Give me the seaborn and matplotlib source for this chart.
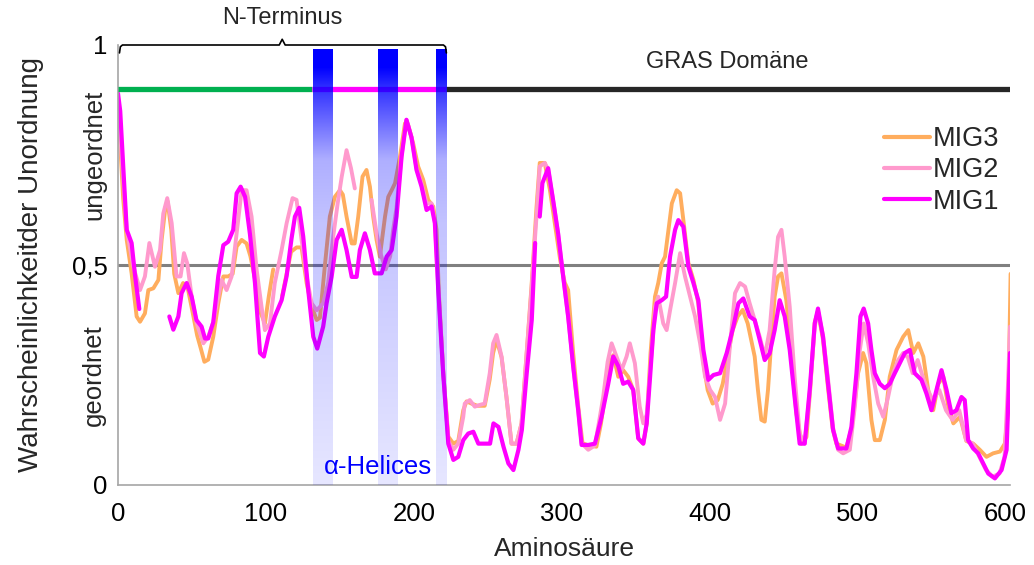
import numpy as np
import pandas as pd
import seaborn as sns
import matplotlib.pyplot as plt
from matplotlib.lines import Line2D

# disorder probability per residue (None = gap in the trace)
mig3_points = [
    (0, 0.80), (1.4, 0.78), (3.5, 0.65), (5.9, 0.557), (9.2, 0.481), (12.6, 0.383), (14.9, 0.371),
    (18.2, 0.39), (20.5, 0.443), (23.9, 0.447), (27.3, 0.466), (29.5, 0.557), (32, 0.63), (33.5, 0.645),
    (36, 0.58), (38, 0.48), (40.8, 0.436), (44, 0.459), (47, 0.45), (50, 0.40), (53.5, 0.34), (56, 0.31),
    (58.4, 0.28), (61, 0.285), (64.4, 0.337), (67.8, 0.413), (71.2, 0.474), (74.5, 0.474), (77.5, 0.48),
    (80.2, 0.542), (83.6, 0.557), (86.9, 0.549), (89.5, 0.52), (92.5, 0.47), (95.5, 0.40), (99.3, 0.367),
    (102, 0.43), (104.9, 0.49), None,
    (111, 0.43), (114, 0.48), (117, 0.53), (120.7, 0.54), (124.1, 0.54), (127.5, 0.459), (130.9, 0.406),
    (134.3, 0.375), (136.5, 0.38), (140, 0.504), (143.2, 0.61), (146.6, 0.655), (150, 0.67), (152, 0.66),
    (154.5, 0.61), (158, 0.549), (160, 0.549), (162.4, 0.61), (165.3, 0.701), (168, 0.716), (170.3, 0.678),
    (172.5, 0.61), (174.8, 0.557), (177, 0.519), (180.5, 0.61), (182.7, 0.655), (185, 0.67), (187.3, 0.686),
    (190.6, 0.746), (194, 0.822), (196, 0.82), (199.5, 0.777), (202.9, 0.724), (206.3, 0.694), (209.7, 0.648),
    (213.1, 0.633), (215.3, 0.58), (217, 0.43), (220, 0.25), (223.3, 0.11), (226.7, 0.094), (230, 0.1),
    (233.4, 0.17), (235.6, 0.19), (239, 0.185), (243, 0.18), (247.9, 0.18), (251.3, 0.24), (253.6, 0.30),
    (255.9, 0.33), (259.3, 0.29), (262.6, 0.2), (266, 0.094), (269.4, 0.094), (272.8, 0.14), (276.1, 0.292),
    (279.5, 0.45), (282.9, 0.63), (285.1, 0.732), (288.5, 0.732), (292, 0.67), (295.5, 0.59), (299, 0.51),
    (302, 0.46), (304.3, 0.443), (307.7, 0.30), (311.1, 0.18), (314, 0.095), (318, 0.09), (323.4, 0.087),
    (326.5, 0.14), (329.5, 0.21), (332, 0.27), (334.8, 0.295), (338.2, 0.246), (341.5, 0.261), (344.9, 0.246),
    (348.3, 0.216), (351.7, 0.106), (355.1, 0.094), (357.4, 0.14), (360, 0.30), (363, 0.428), (365.2, 0.459),
    (367.6, 0.504), (369.8, 0.519), (372.1, 0.58), (374.4, 0.64), (377.7, 0.67), (380, 0.663), (382.2, 0.602),
    (385.6, 0.504), (389, 0.466), (392.3, 0.413), (395.7, 0.28), (398.6, 0.216), (402, 0.185), (405.4, 0.193),
    (408.8, 0.23), (412.2, 0.292), (415.5, 0.352), (418.9, 0.383), (422.3, 0.398), (425.7, 0.367),
    (430.4, 0.292), (432.6, 0.216), (434.9, 0.148), (437.2, 0.144), (439.4, 0.216), (441.7, 0.33),
    (443.9, 0.428), (446.2, 0.474), (448.5, 0.481), (451.8, 0.42), (455.2, 0.292), (458.6, 0.163),
    (462, 0.094), (465.4, 0.109), (468, 0.22), (471, 0.37), (473.2, 0.395), (476.6, 0.33), (480, 0.22),
    (483, 0.13), (485.6, 0.094), (492.4, 0.085), (496, 0.13), (500.3, 0.254), (503.7, 0.3), (505.9, 0.277),
    (509.3, 0.148), (511.6, 0.102), (515, 0.102), (518.4, 0.148), (521.7, 0.246), (526.3, 0.307),
    (530.8, 0.337), (534.2, 0.352), (537.6, 0.3), (541, 0.322), (544.4, 0.292), (547.7, 0.216), (551.1, 0.17),
    (554.5, 0.23), (557.9, 0.246), (561.3, 0.178), (564.7, 0.14), (569.2, 0.155), (573.5, 0.1), (578.1, 0.094),
    (582.6, 0.08), (587.1, 0.064), (591.6, 0.072), (596.2, 0.076), (599.5, 0.094), (601.8, 0.17), (603.4, 0.48),
]

mig2_points = [
    (0, 0.87), (3, 0.72), (5.9, 0.58), (10.4, 0.496), (14.9, 0.443), (18.2, 0.474), (21.2, 0.55), (25, 0.496),
    (28.4, 0.534), (30.6, 0.617), (33.3, 0.652), (36.3, 0.595), (39.6, 0.474), (42.3, 0.474), (44.6, 0.527),
    (46.8, 0.504), (49.8, 0.428), (53.2, 0.367), (57.7, 0.322), (61, 0.337), (64.4, 0.37), (67.8, 0.428),
    (70, 0.466), (73.4, 0.443), (76.8, 0.474), (80.2, 0.572), (83.6, 0.67), (86.9, 0.67), (90.3, 0.61),
    (93.7, 0.49), (97, 0.406), (99.3, 0.352), (102.7, 0.367), (106, 0.459), (110.6, 0.534), (114, 0.595),
    (118, 0.652), (120.7, 0.648), (124.1, 0.557), (127.5, 0.474), (130.9, 0.413), (134.3, 0.397),
    (138.7, 0.413), (142.1, 0.46), (145.5, 0.565), (148.5, 0.64), (151.2, 0.70), (154.5, 0.761),
    (157.5, 0.72), (160.1, 0.674), None,
    (171.4, 0.648), (174.8, 0.572), (178, 0.52), (181, 0.49), (184, 0.52), (186, 0.58), (188.3, 0.63),
    (191.7, 0.75), (195, 0.83), (198.4, 0.79), (201.8, 0.72), (205.2, 0.685), (208.6, 0.64), (212, 0.64),
    (214.2, 0.6), (216.5, 0.45), (219.8, 0.26), (223.3, 0.10), (226.7, 0.08), (230, 0.094), (233.4, 0.155),
    (234.4, 0.185), (237.8, 0.193), (241.2, 0.178), (244.5, 0.182), (247.9, 0.185), (251.3, 0.254),
    (253.6, 0.322), (255.9, 0.341), (259.3, 0.292), (262.6, 0.2), (266, 0.094), (269.4, 0.094),
    (272.8, 0.14), (276.1, 0.292), (279.5, 0.443), (282.9, 0.61), (285.1, 0.724), (288.5, 0.732),
    (290.8, 0.717), (294.1, 0.648), (297.5, 0.572), (300.9, 0.475), (304.3, 0.383), (307.7, 0.27),
    (311.1, 0.17), (313.4, 0.095), (317.9, 0.08), (322.4, 0.09), (325, 0.14), (328, 0.2), (331, 0.28),
    (333.7, 0.322), (337, 0.292), (340.4, 0.261), (343.8, 0.292), (346, 0.322), (349.4, 0.277),
    (352.7, 0.178), (355.1, 0.14), (357.4, 0.16), (359.7, 0.26), (361.9, 0.35), (363, 0.405), (365.2, 0.428),
    (368.6, 0.367), (370.9, 0.352), (373.2, 0.397), (376.6, 0.459), (380, 0.527), (383.3, 0.474),
    (386.7, 0.428), (390.1, 0.383), (393.5, 0.322), (396.9, 0.246), (400.3, 0.216), (403.6, 0.2),
    (407, 0.148), (410.4, 0.185), (413.8, 0.322), (417.1, 0.436), (420.5, 0.459), (423.9, 0.451),
    (427, 0.413), (430.4, 0.375), (433.8, 0.337), (437.2, 0.292), (440.5, 0.352), (443.9, 0.489),
    (446.2, 0.564), (448.5, 0.58), (450.7, 0.519), (454.1, 0.405), (457.4, 0.246), (460.8, 0.117),
    (464.2, 0.094), (467.6, 0.21), (471, 0.36), (473.2, 0.395), (476.6, 0.34), (480, 0.24), (483.4, 0.13),
    (486.8, 0.08), (490.2, 0.072), (494.7, 0.08), (498.1, 0.178), (501.5, 0.307), (504.1, 0.367),
    (507.1, 0.322), (510.5, 0.246), (513.9, 0.185), (517.3, 0.155), (520.6, 0.2), (524, 0.254),
    (527.4, 0.284), (530.8, 0.3), (534, 0.29), (537.2, 0.254), (540.6, 0.284), (544, 0.246), (547.4, 0.216),
    (550.8, 0.193), (555.2, 0.216), (559.7, 0.17), (564.2, 0.148), (568.7, 0.17), (573.3, 0.102),
    (577.8, 0.094), (582.3, 0.064), (586.8, 0.034), (591.3, 0.019), (595.9, 0.026), (599.3, 0.064),
    (601.5, 0.216), (603, 0.36),
]

mig1_points = [
    (0, 0.89), (1.5, 0.85), (3.6, 0.72), (5.9, 0.58), (9.2, 0.55), (11.5, 0.477), (14.4, 0.40), None,
    (34.7, 0.383), (37.4, 0.353), (40.8, 0.383), (43, 0.436), (46.4, 0.459), (49.8, 0.428), (53, 0.375),
    (56.5, 0.36), (58.8, 0.333), (61, 0.333), (64.4, 0.37), (67.8, 0.475), (71.2, 0.545), (74.5, 0.553),
    (77.9, 0.58), (80.2, 0.663), (82.9, 0.678), (85.9, 0.655), (89.2, 0.57), (92.6, 0.459), (96, 0.30),
    (98.6, 0.292), (101.6, 0.337), (106, 0.383), (110.6, 0.42), (114, 0.475), (117.3, 0.56), (119.6, 0.61),
    (122.5, 0.63), (125.2, 0.565), (128.6, 0.443), (132, 0.337), (134.7, 0.31), (138.7, 0.36), (141, 0.413),
    (144.4, 0.473), (147.8, 0.557), (151.2, 0.58), (154.5, 0.534), (158, 0.473), (161.3, 0.473),
    (163.5, 0.534), (166.9, 0.572), (170.3, 0.534), (173.6, 0.481), (178.2, 0.481), (181.6, 0.519),
    (185, 0.534), (188.3, 0.61), (191.7, 0.746), (195, 0.83), (198.4, 0.79), (201.8, 0.716), (205.2, 0.678),
    (208.6, 0.625), (212, 0.633), (214.2, 0.595), (216.5, 0.443), (219.8, 0.254), (223.3, 0.094),
    (226.7, 0.057), (230, 0.064), (233.4, 0.102), (236.8, 0.117), (240.2, 0.121), (243.6, 0.094),
    (248.1, 0.094), (251.5, 0.094), (253.8, 0.14), (257.2, 0.132), (260.6, 0.087), (263.9, 0.049),
    (267.3, 0.034), (270.7, 0.08), (273, 0.125), (276.3, 0.254), (279.7, 0.375), (282, 0.55), None,
    (285.1, 0.61), (286.9, 0.686), (290.8, 0.72), (294.1, 0.648), (297.5, 0.572), (300.9, 0.475),
    (304.3, 0.383), (307.7, 0.27), (311.1, 0.17), (313.4, 0.091), (317.9, 0.091), (322.4, 0.094),
    (326.9, 0.155), (331.4, 0.23), (334.8, 0.292), (338.2, 0.27), (341.5, 0.23), (344.9, 0.235),
    (348.3, 0.216), (351.7, 0.106), (355.1, 0.094), (357.4, 0.14), (359.7, 0.246), (361.9, 0.352),
    (364.2, 0.413), (367.6, 0.42), (370.5, 0.428), (373.2, 0.519), (376.6, 0.58), (378.8, 0.602),
    (382.2, 0.587), (385.6, 0.496), (389, 0.459), (392.3, 0.42), (395.7, 0.307), (399.1, 0.239),
    (402.5, 0.25), (407, 0.254), (411.5, 0.3), (416, 0.36), (419.4, 0.413), (422.7, 0.424), (427, 0.383),
    (430.4, 0.375), (433.8, 0.33), (437.2, 0.284), (440.5, 0.299), (443.9, 0.352), (447.3, 0.42),
    (450.7, 0.383), (454.1, 0.307), (457.4, 0.2), (460.8, 0.094), (464.2, 0.094), (467.6, 0.216),
    (471, 0.367), (473.2, 0.401), (476.6, 0.337), (480, 0.23), (483.4, 0.125), (486.8, 0.083),
    (492.4, 0.083), (495.8, 0.132), (499.2, 0.254), (501.9, 0.383), (504.1, 0.401), (507.1, 0.367),
    (509.3, 0.307), (511.6, 0.254), (515, 0.23), (518.4, 0.22), (521.7, 0.23), (525.1, 0.254),
    (528.5, 0.277), (531.9, 0.3), (535.3, 0.307), (538.6, 0.254), (543.1, 0.239), (546.5, 0.208),
    (549.9, 0.17), (553.3, 0.216), (556.7, 0.261), (560.1, 0.216), (563.4, 0.163), (566.8, 0.17),
    (570.2, 0.2), (572.4, 0.193), (574.7, 0.102), (578.1, 0.083), (581.5, 0.072), (584.9, 0.049),
    (588.3, 0.026), (592.8, 0.015), (597.3, 0.034), (600.7, 0.08), (603, 0.30),
]

series_names = ['MIG3', 'MIG2', 'MIG1']
series_points = [mig3_points, mig2_points, mig1_points]
series_colors = ['#FFAD5E', '#FF9ACD', '#FF00FF']
series_widths = [2.8, 2.8, 3.0]

# domain bar: N-terminus parts and GRAS domain
domain_edges = [0, 131, 222, 603]
domain_colors = ['#00B050', '#FF00FF', '#262626']
domain_level = 0.9

# alpha helices (residue ranges)
helix_ranges = [(131.8, 145.3), (175.7, 189.2), (214.9, 222.3)]

x_ticks = [0, 100, 200, 300, 400, 500, 600]
y_ticks = [0, 0.5, 1]
y_tick_labels = ['0', '0,5', '1']

# build long table, segment id increases at every gap
rows = []
for name, pts in zip(series_names, series_points):
    seg = 0
    for p in pts:
        if p is None:
            seg += 1
            continue
        rows.append({'series': name, 'seg': seg, 'x': p[0], 'y': p[1]})
df = pd.DataFrame(rows)

sns.set_style('white')
plt.rcParams['font.family'] = ['Liberation Sans', 'DejaVu Sans']

fig = plt.figure(figsize=(10.34, 5.65), dpi=100)
ax = fig.add_axes([118 / 1034, 80 / 565, 892 / 1034, 440 / 565])

ax.axhline(0.5, color='#808080', lw=2.2, zorder=1)

for name, col, lw in zip(series_names, series_colors, series_widths):
    sns.lineplot(data=df[df['series'] == name], x='x', y='y', units='seg', estimator=None,
                 sort=False, color=col, lw=lw, legend=False, ax=ax, zorder=2,
                 solid_joinstyle='round', solid_capstyle='round')

# domain bar at top
for i in range(len(domain_colors)):
    ax.plot([domain_edges[i], domain_edges[i + 1]], [domain_level, domain_level],
            color=domain_colors[i], lw=3.8, solid_capstyle='butt', zorder=3)

# helix bands: blue with alpha fading downward, drawn over the traces
yy = np.linspace(0, 0.99, 200)
alpha = np.interp(yy, [0, 0.3, 0.6, 0.74, 0.81, 0.9, 0.95, 0.99],
                  [0.10, 0.17, 0.24, 0.32, 0.53, 0.8, 1.0, 1.0])
grad = np.zeros((len(yy), 1, 4))
grad[:, 0, 2] = 1.0
grad[:, 0, 3] = alpha
for x0, x1 in helix_ranges:
    ax.imshow(grad, extent=(x0, x1, 0, 0.99), origin='lower', aspect='auto',
              interpolation='bilinear', zorder=4)

# bracket over the N-terminus
nterm_end = domain_edges[2]
mid = nterm_end / 2
bx = [1, 1.6, 3, mid - 2, mid, mid + 2, nterm_end - 2, nterm_end - 0.6, nterm_end]
by = [0.982, 0.996, 1.0, 1.0, 1.013, 1.0, 1.0, 0.996, 0.982]
ax.plot(bx, by, color='black', lw=1.2, clip_on=False, zorder=5)
ax.text(mid, 1.062, 'N-Terminus', ha='center', va='center', fontsize=17, clip_on=False)
ax.text(412, 0.962, 'GRAS Domäne', ha='center', va='center', fontsize=17)
ax.text(176, 0.04, 'α-Helices', ha='center', va='center', fontsize=18.5, color='#0000FF', zorder=6)

ax.set_xlim(0, 603)
ax.set_ylim(0, 1)
ax.set_xticks(x_ticks)
ax.set_yticks(y_ticks)
ax.set_yticklabels(y_tick_labels)
ax.tick_params(axis='both', labelsize=18.5, colors='#A6A6A6', labelcolor='black',
               direction='out', length=5, width=1.2)
ax.tick_params(axis='x', pad=7)
ax.tick_params(axis='y', pad=3, length=4.5)
for s in ['top', 'right']:
    ax.spines[s].set_visible(False)
for s in ['left', 'bottom']:
    ax.spines[s].set_color('#A6A6A6')
    ax.spines[s].set_linewidth(1.2)

ax.set_xlabel('Aminosäure', fontsize=19)
ax.xaxis.set_label_coords(0.5, -0.118)
ax.set_ylabel('Wahrscheinlichkeitder Unordnung', fontsize=20)
ax.yaxis.set_label_coords(-0.083, 0.5)

ax.text(-0.027, 0.75, 'ungeordnet', transform=ax.get_yaxis_transform(), rotation=90,
        ha='center', va='center', fontsize=18.5, clip_on=False)
ax.text(-0.027, 0.25, 'geordnet', transform=ax.get_yaxis_transform(), rotation=90,
        ha='center', va='center', fontsize=18.5, clip_on=False)

handles = [Line2D([0], [0], color=c, lw=3) for c in series_colors]
fig.legend(handles, series_names, loc='upper left', bbox_to_anchor=(884 / 1034, 1 - 126 / 565),
           frameon=False, fontsize=19.5, handlelength=1.7, handletextpad=0.1,
           labelspacing=0.2, borderpad=0, borderaxespad=0)

fig.savefig('out.png', dpi=100)
